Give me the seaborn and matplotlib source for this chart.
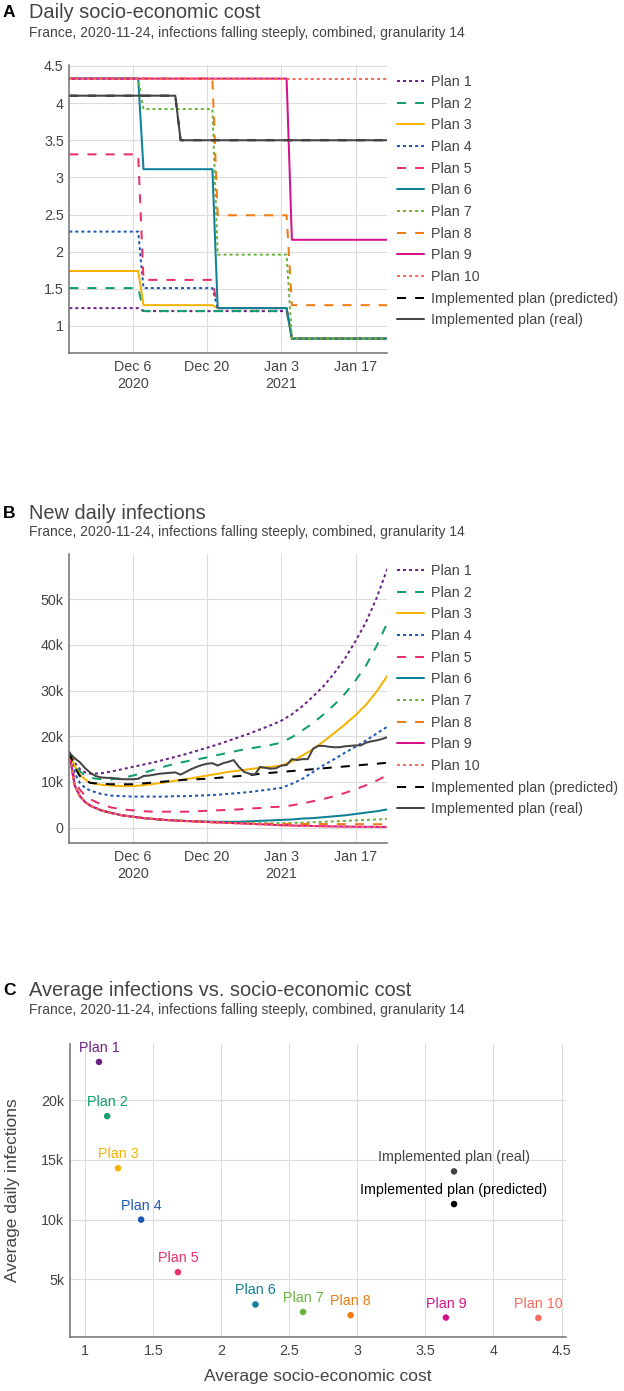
import matplotlib
matplotlib.use("Agg")
import matplotlib.pyplot as plt
import numpy as np
import pandas as pd
import seaborn as sns
from matplotlib.lines import Line2D
from matplotlib.ticker import FixedLocator, FuncFormatter

# ---------------- data ----------------
START = pd.Timestamp("2020-11-24")
PLANS = ["Plan 1", "Plan 2", "Plan 3", "Plan 4", "Plan 5",
         "Plan 6", "Plan 7", "Plan 8", "Plan 9", "Plan 10"]
PRED = "Implemented plan (predicted)"
REAL = "Implemented plan (real)"
NAMES = PLANS + [PRED, REAL]

COLORS = ["#6b2186", "#109e70", "#f5b300", "#1f58b3", "#e8306a",
          "#0f8096", "#6cb33e", "#ef7c12", "#d4138b", "#f96a5b",
          "#000000", "#444444"]
STYLES = ["dot", "dash", "solid", "dot", "dash", "solid", "dot", "dash",
          "solid", "dot", "dash", "solid"]

# Panel A: daily socio-economic cost (vertices, day offsets from START)
COST_DAYS = [0, 13, 14, 27, 28, 41, 42, 60]
COST = {
    "Plan 1": [1.24, 1.24, 1.20, 1.20, 1.20, 1.20, 0.83, 0.83],
    "Plan 2": [1.51, 1.51, 1.20, 1.20, 1.20, 1.20, 0.83, 0.83],
    "Plan 3": [1.74, 1.74, 1.28, 1.28, 1.24, 1.24, 0.83, 0.83],
    "Plan 4": [2.27, 2.27, 1.51, 1.51, 1.24, 1.24, 0.83, 0.83],
    "Plan 5": [3.31, 3.31, 1.62, 1.62, 1.24, 1.24, 0.83, 0.83],
    "Plan 6": [4.33, 4.33, 3.11, 3.11, 1.24, 1.24, 0.83, 0.83],
    "Plan 7": [4.33, 4.33, 3.92, 3.92, 1.96, 1.96, 0.83, 0.83],
    "Plan 8": [4.33, 4.33, 4.33, 4.33, 2.49, 2.49, 1.28, 1.28],
    "Plan 9": [4.33, 4.33, 4.33, 4.33, 4.33, 4.33, 2.16, 2.16],
    "Plan 10": [4.33, 4.33, 4.33, 4.33, 4.33, 4.33, 4.33, 4.33],
}
IMPL_COST_DAYS = [0, 20, 21, 60]
COST[PRED] = [4.10, 4.10, 3.50, 3.50]
COST[REAL] = [4.10, 4.10, 3.50, 3.50]

# Panel B: new daily infections (thousands)
INF_DAYS = [0, 1, 2, 3, 4, 6, 8, 10, 12, 14, 16, 18, 20, 22, 24, 26, 28, 30,
            32, 34, 36, 38, 40, 42, 44, 46, 48, 50, 52, 54, 56, 58, 60]
INF = {
    "Plan 1": [16.5, 14.2, 12.8, 12.1, 11.8, 11.9, 12.3, 12.8, 13.3, 13.8, 14.3,
               14.9, 15.5, 16.1, 16.8, 17.5, 18.2, 19.0, 19.8, 20.6, 21.5, 22.4,
               23.4, 24.8, 26.6, 28.7, 31.0, 33.8, 37.0, 40.8, 45.0, 50.3, 56.6],
    "Plan 2": [16.5, 14.0, 12.3, 11.4, 10.9, 10.6, 10.6, 10.9, 11.4, 12.0, 12.7,
               13.4, 14.0, 14.5, 14.9, 15.4, 15.9, 16.4, 16.9, 17.3, 17.7, 18.1,
               18.6, 19.8, 21.3, 22.9, 24.8, 26.9, 29.3, 32.2, 35.5, 39.8, 44.8],
    "Plan 3": [16.5, 13.5, 11.6, 10.5, 9.8, 9.4, 9.2, 9.1, 9.1, 9.3, 9.6, 9.9,
               10.3, 10.6, 11.0, 11.4, 11.8, 12.2, 12.5, 12.8, 13.1, 13.3, 13.6,
               14.5, 15.8, 17.2, 18.9, 20.7, 22.6, 24.6, 26.9, 29.8, 33.2],
    "Plan 4": [16.5, 12.0, 9.8, 8.7, 8.1, 7.4, 7.0, 6.9, 6.8, 6.8, 6.8, 6.8,
               6.9, 6.9, 7.0, 7.1, 7.2, 7.4, 7.6, 7.8, 8.1, 8.4, 8.7, 9.6, 10.7,
               12.2, 13.7, 15.0, 16.4, 17.7, 19.1, 20.6, 22.1],
    "Plan 5": [16.5, 10.5, 8.3, 7.0, 6.2, 5.1, 4.4, 4.0, 3.8, 3.6, 3.5, 3.5,
               3.5, 3.5, 3.6, 3.7, 3.8, 3.9, 4.0, 4.2, 4.3, 4.5, 4.6, 4.9, 5.3,
               5.8, 6.3, 6.9, 7.6, 8.4, 9.3, 10.3, 11.5],
    "Plan 6": [16.5, 9.3, 6.9, 5.6, 4.8, 3.8, 3.2, 2.7, 2.4, 2.1, 1.9, 1.7,
               1.6, 1.5, 1.4, 1.35, 1.3, 1.3, 1.3, 1.4, 1.5, 1.6, 1.7, 1.8, 2.0,
               2.1, 2.3, 2.5, 2.7, 3.0, 3.3, 3.6, 4.0],
    "Plan 7": [16.5, 9.3, 6.9, 5.6, 4.8, 3.8, 3.2, 2.7, 2.4, 2.1, 1.9, 1.7,
               1.55, 1.45, 1.35, 1.25, 1.18, 1.1, 1.05, 1.0, 1.0, 1.0, 1.0, 1.05,
               1.1, 1.2, 1.3, 1.4, 1.5, 1.6, 1.7, 1.8, 1.9],
    "Plan 8": [16.5, 9.3, 6.9, 5.6, 4.8, 3.8, 3.2, 2.7, 2.4, 2.1, 1.9, 1.7,
               1.55, 1.45, 1.35, 1.25, 1.15, 1.05, 0.98, 0.92, 0.87, 0.83, 0.8,
               0.8, 0.8, 0.8, 0.8, 0.8, 0.79, 0.78, 0.77, 0.76, 0.75],
    "Plan 9": [16.5, 9.3, 6.9, 5.6, 4.8, 3.8, 3.2, 2.7, 2.4, 2.1, 1.9, 1.7,
               1.55, 1.45, 1.35, 1.25, 1.15, 1.05, 0.95, 0.85, 0.75, 0.65, 0.55,
               0.48, 0.42, 0.37, 0.32, 0.28, 0.25, 0.22, 0.2, 0.18, 0.16],
    "Plan 10": [16.5, 9.3, 6.9, 5.6, 4.8, 3.8, 3.2, 2.7, 2.4, 2.1, 1.9, 1.7,
                1.55, 1.45, 1.35, 1.25, 1.15, 1.05, 0.95, 0.85, 0.74, 0.63, 0.52,
                0.45, 0.39, 0.34, 0.29, 0.25, 0.22, 0.19, 0.16, 0.14, 0.12],
    PRED: [16.5, 13.2, 11.3, 10.3, 9.8, 9.6, 9.5, 9.5, 9.5, 9.7, 9.9, 10.1,
           10.3, 10.5, 10.6, 10.7, 10.9, 11.1, 11.3, 11.5, 11.8, 12.0, 12.2,
           12.4, 12.6, 12.8, 13.0, 13.2, 13.4, 13.6, 13.8, 14.0, 14.2],
}
REAL_DAYS = list(range(61))
REAL_INF = [16.4, 15.2, 14.3, 13.0, 12.0, 11.3, 11.0, 10.9, 10.9, 10.7, 10.6,
            10.6, 10.6, 10.7, 11.3, 11.4, 11.6, 11.8, 11.9, 12.0, 12.1, 11.6,
            12.2, 12.8, 13.3, 13.7, 14.0, 14.1, 13.6, 14.1, 14.4, 14.8, 13.3,
            12.2, 11.8, 11.6, 13.3, 13.1, 12.9, 13.0, 13.6, 13.7, 15.0, 14.8,
            15.0, 15.0, 17.3, 17.9, 17.9, 17.7, 17.6, 17.6, 17.8, 17.9, 18.0,
            18.0, 18.6, 18.9, 19.1, 19.4, 19.8]

# Panel C: averages
AVG_COST = [1.10, 1.16, 1.24, 1.41, 1.68, 2.25, 2.60, 2.95, 3.65, 4.33, 3.71, 3.71]
AVG_INF = [23200, 18660, 14300, 10000, 5600, 2900, 2270, 2000, 1800, 1770, 11300, 14040]

SUBTITLE = "France, 2020-11-24, infections falling steeply, combined, granularity 14"

# ---------------- style ----------------
W, H = 624, 1391
sns.set_theme(style="whitegrid")
plt.rcParams["font.family"] = ["Liberation Sans", "DejaVu Sans"]
TXT = "#444444"
LW = 1.45
DASH = {"solid": "-", "dot": (0, (1.5, 1.5)), "dash": (0, (4.5, 4.5))}
FS = 10.3

fig = plt.figure(figsize=(W / 100, H / 100), dpi=100)


def rect(l, t, r, b):
    return [l / W, 1 - b / H, (r - l) / W, (b - t) / H]


def style_axes(ax):
    ax.set_facecolor("white")
    ax.grid(True, color="#dcdcdc", lw=0.8)
    for s in ["top", "right"]:
        ax.spines[s].set_visible(False)
    for s in ["left", "bottom"]:
        ax.spines[s].set_color("#707070")
        ax.spines[s].set_linewidth(1.1)
    ax.tick_params(length=0, labelsize=FS, labelcolor=TXT)
    ax.tick_params(axis="y", pad=4)
    ax.tick_params(axis="x", pad=5)
    ax.set_xlabel("")
    ax.set_ylabel("")


def titles(letter, title, y_title, y_sub):
    fig.text(3 / W, 1 - y_title / H, letter, fontsize=12.5, fontweight="bold",
             color="black", va="center", ha="left")
    fig.text(29 / W, 1 - y_title / H, title, fontsize=14.4, color=TXT,
             va="center", ha="left")
    fig.text(29 / W, 1 - y_sub / H, SUBTITLE, fontsize=10, color=TXT,
             va="center", ha="left")


def date_axis(ax):
    ticks = [START + pd.Timedelta(days=d) for d in (12, 26, 40, 54)]
    ax.xaxis.set_major_locator(FixedLocator(matplotlib.dates.date2num(ticks)))
    ax.set_xticklabels(["Dec 6\n2020", "Dec 20", "Jan 3\n2021", "Jan 17"],
                       linespacing=1.3, va="top")
    ax.set_xlim(START, START + pd.Timedelta(days=60))


def legend(ax, top_y):
    handles = [Line2D([], [], color=c, lw=LW, linestyle=DASH[s])
               for c, s in zip(COLORS, STYLES)]
    fig.legend(handles, NAMES, loc="upper left",
               bbox_to_anchor=(397 / W, 1 - top_y / H), bbox_transform=fig.transFigure,
               frameon=False, fontsize=FS, handlelength=1.9, handletextpad=0.45,
               labelspacing=0.535, borderpad=0, borderaxespad=0, labelcolor=TXT)


# ---------------- Panel A ----------------
axA = fig.add_axes(rect(69.3, 65, 387.3, 352.7))
for name, c, s in zip(NAMES, COLORS, STYLES):
    days = IMPL_COST_DAYS if name in (PRED, REAL) else COST_DAYS
    dates = [START + pd.Timedelta(days=d) for d in days]
    sns.lineplot(x=dates, y=COST[name], ax=axA, color=c, lw=LW,
                 linestyle=DASH[s], errorbar=None)
style_axes(axA)
date_axis(axA)
axA.set_ylim(0.64, 4.513)
axA.yaxis.set_major_locator(FixedLocator([1, 1.5, 2, 2.5, 3, 3.5, 4, 4.5]))
axA.yaxis.set_major_formatter(FuncFormatter(lambda v, p: f"{v:g}"))
titles("A", "Daily socio-economic cost", 12.5, 32.5)
legend(axA, 75)

# ---------------- Panel B ----------------
axB = fig.add_axes(rect(69.3, 554.3, 387.3, 842.7))
for name, c, s in zip(NAMES, COLORS, STYLES):
    if name == REAL:
        days, vals = REAL_DAYS, REAL_INF
    else:
        days, vals = INF_DAYS, INF[name]
    dates = [START + pd.Timedelta(days=d) for d in days]
    sns.lineplot(x=dates, y=[v * 1000 for v in vals], ax=axB, color=c, lw=LW,
                 linestyle=DASH[s], errorbar=None)
style_axes(axB)
date_axis(axB)
axB.set_ylim(-3280, 59800)
axB.yaxis.set_major_locator(FixedLocator([0, 10000, 20000, 30000, 40000, 50000]))
axB.yaxis.set_major_formatter(
    FuncFormatter(lambda v, p: "0" if v == 0 else f"{v / 1000:g}k"))
titles("B", "New daily infections", 513.5, 532)
legend(axB, 564)

# ---------------- Panel C ----------------
axC = fig.add_axes(rect(70, 1044, 566, 1336.7))
dfc = pd.DataFrame({"cost": AVG_COST, "inf": AVG_INF, "name": NAMES})
sns.scatterplot(data=dfc, x="cost", y="inf", hue="name", palette=COLORS,
                hue_order=NAMES, s=22, linewidth=0, legend=False, ax=axC)
for xv, yv, n, c in zip(AVG_COST, AVG_INF, NAMES, COLORS):
    axC.annotate(n, (xv, yv), xytext=(0, 14), textcoords="offset pixels",
                 ha="center", va="center", fontsize=FS, color=c)
style_axes(axC)
axC.set_xlim(0.887, 4.533)
axC.set_ylim(200, 24700)
axC.xaxis.set_major_locator(FixedLocator([1, 1.5, 2, 2.5, 3, 3.5, 4, 4.5]))
axC.xaxis.set_major_formatter(FuncFormatter(lambda v, p: f"{v:g}"))
axC.yaxis.set_major_locator(FixedLocator([5000, 10000, 15000, 20000]))
axC.yaxis.set_major_formatter(FuncFormatter(lambda v, p: f"{v / 1000:g}k"))
fig.text(318 / W, 1 - 1377 / H, "Average socio-economic cost", fontsize=12.5,
         color=TXT, ha="center", va="center")
fig.text(13 / W, 1 - 1190 / H, "Average daily infections", fontsize=12.5,
         color=TXT, ha="center", va="center", rotation=90)
titles("C", "Average infections vs. socio-economic cost", 990.5, 1010)

fig.savefig("out.png", dpi=100, facecolor="white")
